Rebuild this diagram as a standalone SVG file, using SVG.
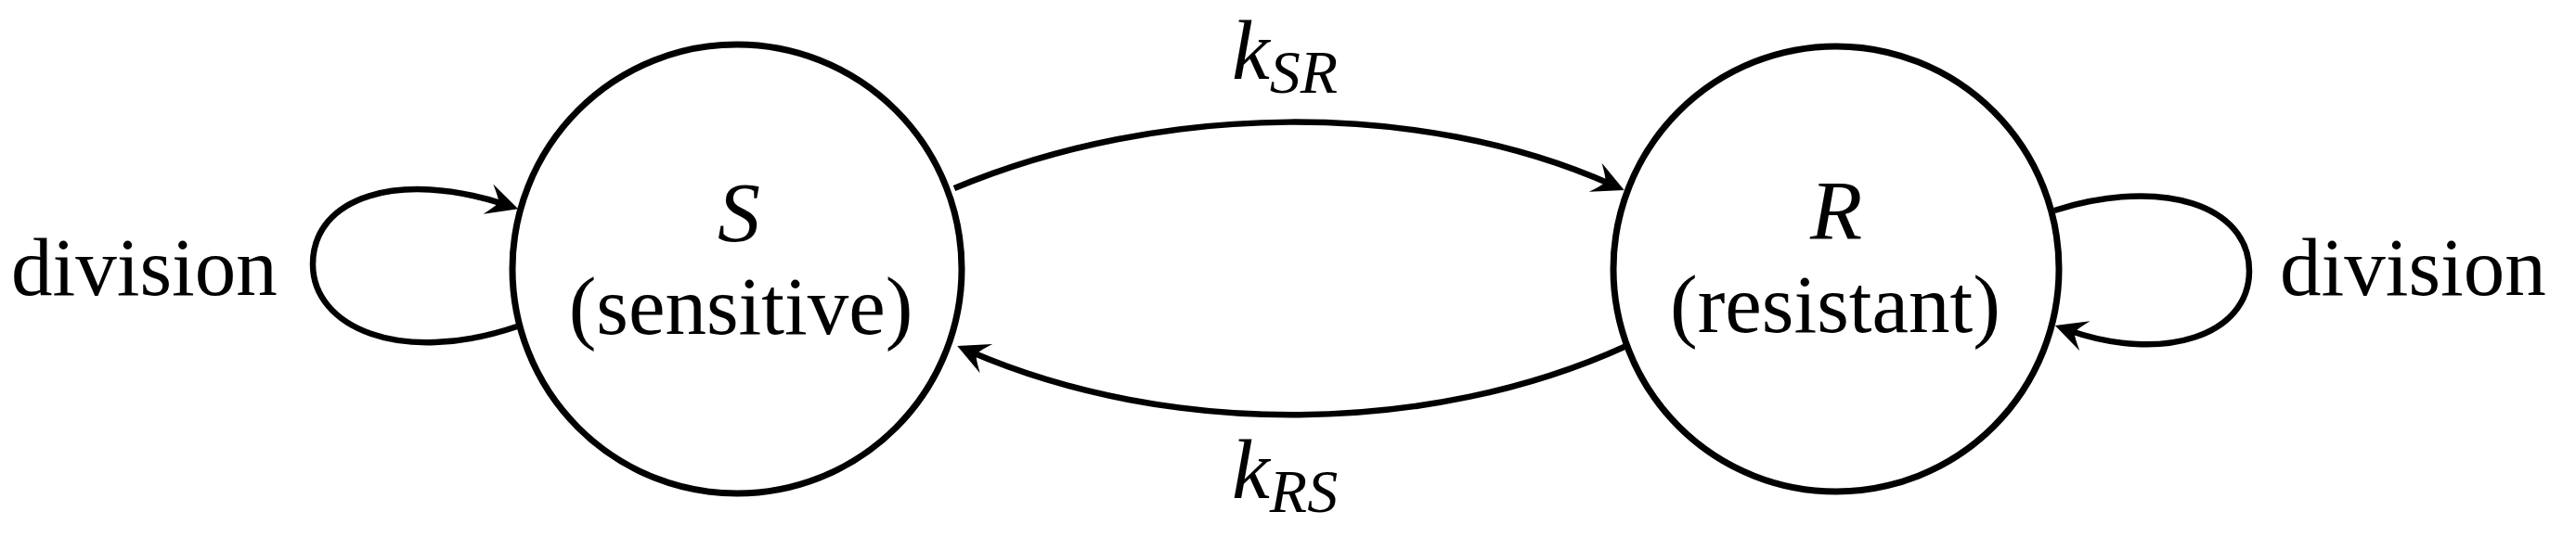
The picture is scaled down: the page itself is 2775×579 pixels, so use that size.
<svg xmlns="http://www.w3.org/2000/svg" width="2775" height="579" viewBox="0 0 2775 579">
<style>
.node { fill: #ffffff; stroke: #000000; stroke-width: 7; }
.edge { fill: none; stroke: #000000; stroke-width: 6.5; marker-end: url(#arrow); }
.txt { font-family: "Liberation Serif", "Times New Roman", serif; font-size: 89px; fill: #000000; }
.math { font-family: "Liberation Serif", "Times New Roman", serif; font-size: 92px; font-style: italic; fill: #000000; }
.sub { font-size: 66px; }
</style>
<defs>
<marker id="arrow" markerUnits="userSpaceOnUse" orient="auto" refX="0" refY="0" markerWidth="60" markerHeight="60" overflow="visible">
<path d="M15,0 L-19,-17 Q-9,-5 -7,0 Q-9,5 -19,17 Z" fill="#000000"/>
</marker>
</defs>
<rect width="2775" height="579" fill="#ffffff"/>
<g id="connectors">
<path id="loop-S" class="edge" d="M557,352 C430,395 337,352 337,285 C337,212 430,183 544,220.5"/>
<path id="edge-SR" class="edge" d="M1028,203 C1250,110 1530,107 1736,199"/>
<path id="edge-RS" class="edge" d="M1752,373 C1540,470 1260,472 1045,379"/>
<path id="loop-R" class="edge" d="M2213,227 C2330,190 2423,222 2423,292 C2423,362 2330,392 2228,356"/>
</g>
<g id="node-S">
<circle class="node" cx="794" cy="290" r="242"/>
<text class="math" x="796" y="260" text-anchor="middle">S</text>
<text class="txt" x="798" y="360" text-anchor="middle">(sensitive)</text>
</g>
<g id="node-R">
<circle class="node" cx="1978" cy="290" r="240"/>
<text class="math" x="1978" y="258" text-anchor="middle">R</text>
<text class="txt" x="1977" y="358" text-anchor="middle">(resistant)</text>
</g>
<g id="labels">
<text class="txt" x="12" y="318">division</text>
<text class="txt" x="2456" y="318">division</text>
<text class="math" x="1327" y="85">k<tspan class="sub" dy="15">SR</tspan></text>
<text class="math" x="1327" y="537">k<tspan class="sub" dy="15">RS</tspan></text>
</g>
</svg>
